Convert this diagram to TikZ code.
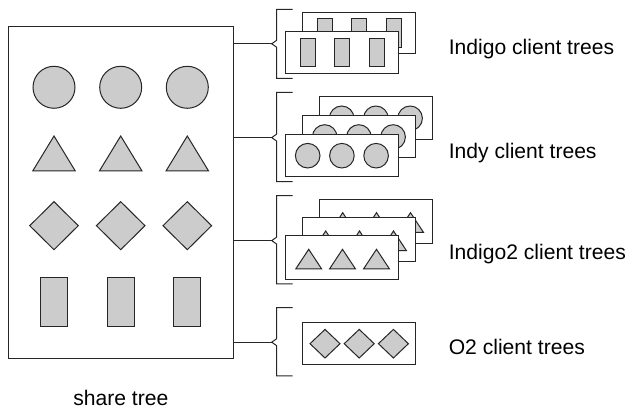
\documentclass[tikz,border=0pt]{standalone}
\usepackage{fontspec}
\setmainfont{Liberation Sans}
\newcommand\mycirc[3]{\draw[shp] (#1,#2) circle[radius=#3];}
\newcommand\mytri[4]{\draw[shp] (#1,#2) -- ({#1+#4},#3) -- ({#1-#4},#3) -- cycle;}
\newcommand\mydia[4]{\draw[shp] ({#1-#3},#2) -- (#1,{#2-#4}) -- ({#1+#3},#2) -- (#1,{#2+#4}) -- cycle;}
\newcommand\myrect[4]{\draw[shp] ({#1-#3},{#2-#4}) rectangle ({#1+#3},{#2+#4});}
\newcommand\mybrace[4]{%
  \draw[brk] (292.7,#1) -- (276.7,#1) -- (276.7,{#3-3.5}) -- (271.7,#3) -- (276.7,{#3+3.5}) -- (276.7,#2) -- (292.7,#2);
  \coordinate (#4) at (271.7,#3);}
\begin{document}
\begin{tikzpicture}[x=1pt,y=-1pt,line width=1pt,
  shp/.style={draw=black!85,fill=black!20},
  panel/.style={draw=black!85,fill=white},
  brk/.style={draw=black!85},
  lab/.style={inner sep=0pt,font=\fontsize{21.1}{25}\selectfont}]
\useasboundingbox (0,0) rectangle (629,411);

% share tree
\node[draw=black!85,minimum width=224.6pt,minimum height=332.3pt,inner sep=0pt,outer sep=0pt,anchor=north west] (share) at (8.7,26.7) {};
\foreach \x in {54,120.7,187.3} {
  \mycirc{\x}{87.3}{21}
  \mytri{\x}{136}{171}{21.3}
  \mydia{\x}{225.7}{24.3}{24}
  \myrect{\x}{301.9}{13.5}{24.2}
}
\node[lab,anchor=base] (lshare) at (120.8,405) {share tree};

% Indigo
\foreach \s in {1,0} {
  \begin{scope}[shift={({17*\s},{-19.3*\s})}]
    \draw[panel] (285.7,31.7) rectangle (398.3,73.3);
    \foreach \x in {307.65,341.65,376.65} {\myrect{\x}{52.5}{7.65}{14.2}}
  \end{scope}
}
% Indy
\foreach \s in {2,1,0} {
  \begin{scope}[shift={({17*\s},{-18.7*\s})}]
    \draw[panel] (285.7,134.3) rectangle (398.3,176.7);
    \foreach \x in {307.7,341.9,376.1} {\mycirc{\x}{155.7}{12.3}}
  \end{scope}
}
% Indigo2
\foreach \s in {2,1,0} {
  \begin{scope}[shift={({17*\s},{-18.3*\s})}]
    \draw[panel] (285.7,236) rectangle (398.3,280);
    \foreach \x in {308.7,342.5,376.5} {\mytri{\x}{249.3}{269}{13}}
  \end{scope}
}
% O2
\draw[panel] (302.7,322.3) rectangle (415.7,365);
\foreach \x in {325,359.2,393.4} {\mydia{\x}{343.7}{15}{14.3}}

% braces and connectors
\mybrace{9.3}{78.3}{43.8}{tA}
\mybrace{92.3}{181.7}{137.6}{tB}
\mybrace{195.7}{284}{240.6}{tC}
\mybrace{307.7}{376}{342.2}{tD}
\foreach \t in {tA,tB,tC,tD} {\draw[brk] (share.east |- \t) -- (\t);}

% labels
\node[lab,anchor=base west] (lA) at (448.3,54.3) {Indigo client trees};
\node[lab,anchor=base west] (lB) at (448.3,159) {Indy client trees};
\node[lab,anchor=base west] (lC) at (448.3,259.3) {Indigo2 client trees};
\node[lab,anchor=base west] (lD) at (448.3,354.3) {O2 client trees};
\end{tikzpicture}
\end{document}
